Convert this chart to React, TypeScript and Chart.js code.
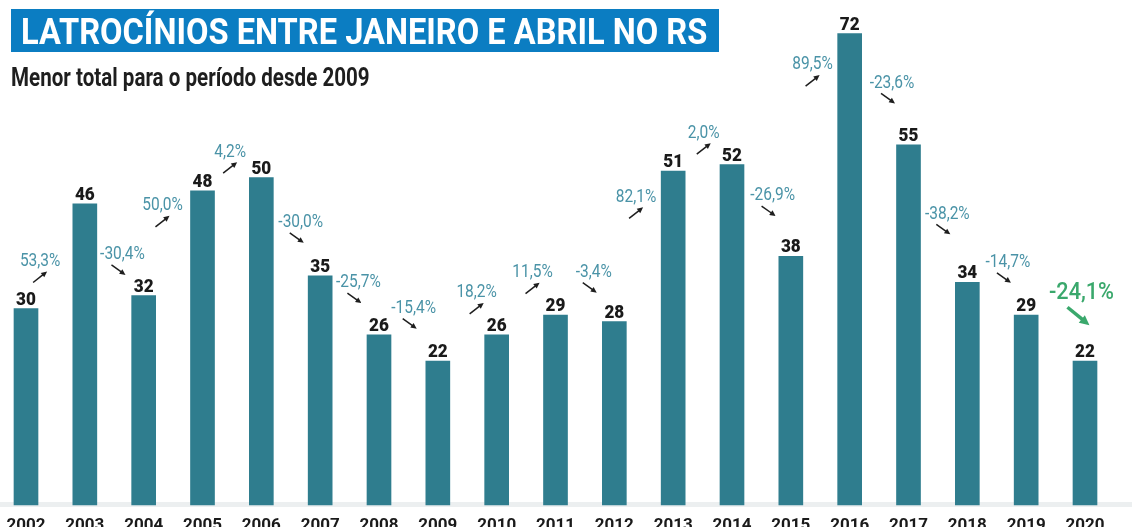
import React, { useEffect, useLayoutEffect, useRef } from 'react';
import { Chart, registerables } from 'chart.js';

Chart.register(...registerables);

const years = ['2002', '2003', '2004', '2005', '2006', '2007', '2008', '2009', '2010', '2011', '2012', '2013', '2014', '2015', '2016', '2017', '2018', '2019', '2020'];
const totals = [30, 46, 32, 48, 50, 35, 26, 22, 26, 29, 28, 51, 52, 38, 72, 55, 34, 29, 22];
const changeLabels = ['53,3%', '-30,4%', '50,0%', '4,2%', '-30,0%', '-25,7%', '-15,4%', '18,2%', '11,5%', '-3,4%', '82,1%', '2,0%', '-26,9%', '89,5%', '-23,6%', '-38,2%', '-14,7%', '-24,1%'];
// annotation anchors in data units (category index, value)
const changeAnchorX = [0.24, 1.64, 2.32, 3.47, 4.67, 5.65, 6.59, 7.66, 8.61, 9.65, 10.37, 11.52, 12.69, 13.37, 14.72, 15.66, 16.69, 17.94];
const changeAnchorY = [37.5, 38.5, 46.0, 54.2, 43.4, 34.2, 30.3, 32.7, 35.8, 35.8, 47.3, 57.1, 47.5, 67.5, 64.7, 44.7, 37.3, 32.8];

const TITLE = 'LATROCÍNIOS ENTRE JANEIRO E ABRIL NO RS';
const SUBTITLE = 'Menor total para o período desde 2009';

function drawArrow(ctx: CanvasRenderingContext2D, x1: number, y1: number, x2: number, y2: number, color: string, lw: number, head: number) {
  const ang = Math.atan2(y2 - y1, x2 - x1);
  ctx.strokeStyle = color;
  ctx.fillStyle = color;
  ctx.lineWidth = lw;
  ctx.lineCap = 'butt';
  ctx.beginPath();
  ctx.moveTo(x1, y1);
  ctx.lineTo(x2 - Math.cos(ang) * head * 0.8, y2 - Math.sin(ang) * head * 0.8);
  ctx.stroke();
  ctx.beginPath();
  ctx.moveTo(x2, y2);
  ctx.lineTo(x2 - head * Math.cos(ang - 0.45), y2 - head * Math.sin(ang - 0.45));
  ctx.lineTo(x2 - head * Math.cos(ang + 0.45), y2 - head * Math.sin(ang + 0.45));
  ctx.closePath();
  ctx.fill();
}

function condensedText(ctx: CanvasRenderingContext2D, txt: string, x: number, y: number, sx: number) {
  ctx.save();
  ctx.translate(x, y);
  ctx.scale(sx, 1);
  ctx.fillText(txt, 0, 0);
  ctx.restore();
}

const annotationPlugin = {
  id: 'annotationPlugin',
  beforeDatasetsDraw(chart: any) {
    const { ctx, chartArea, width } = chart;
    ctx.save();
    ctx.fillStyle = '#eceff0';
    ctx.fillRect(0, chartArea.bottom - 3, width, 5);
    ctx.restore();
  },
  afterDatasetsDraw(chart: any) {
    const ctx: CanvasRenderingContext2D = chart.ctx;
    const meta = chart.getDatasetMeta(0);
    const xs = chart.scales.x;
    const ys = chart.scales.y;
    ctx.save();
    ctx.textAlign = 'center';
    ctx.textBaseline = 'alphabetic';
    ctx.font = '900 19px Roboto';
    ctx.fillStyle = '#1a1a1a';
    meta.data.forEach((bar: any, i: number) => {
      condensedText(ctx, String(totals[i]), bar.x, bar.y - 4, 0.9);
    });
    changeLabels.forEach((txt, i) => {
      const last = i === changeLabels.length - 1;
      const cx = xs.getPixelForValue(changeAnchorX[i]);
      const cy = ys.getPixelForValue(changeAnchorY[i]);
      const up = totals[i + 1] > totals[i];
      const size = last ? 24 : 18;
      ctx.font = (last ? '500 ' : '400 ') + size + 'px Roboto';
      ctx.fillStyle = last ? '#3aa86c' : '#4a93a7';
      condensedText(ctx, txt, cx, cy + size * 0.355, last ? 0.9 : 0.86);
      let s: number[];
      let e: number[];
      if (last) { s = [-14, 17]; e = [8, 35]; }
      else if (up) { s = [-7, 23]; e = [7, 12]; }
      else { s = [-11, 12]; e = [3, 22]; }
      drawArrow(ctx, cx + s[0], cy + s[1], cx + e[0], cy + e[1], last ? '#3aa86c' : '#1e1e1e', last ? 3.5 : 1.5, last ? 11 : 6.5);
    });
    ctx.restore();
  },
};

function FitText({ text, width, style }: { text: string; width: number; style: React.CSSProperties }) {
  const ref = useRef<HTMLSpanElement>(null);
  useLayoutEffect(() => {
    const fit = () => {
      const el = ref.current;
      if (!el) return;
      const w = el.offsetWidth;
      if (w > 0) el.style.transform = `scaleX(${width / w})`;
    };
    fit();
    const fonts: any = (document as any).fonts;
    if (fonts && fonts.ready) fonts.ready.then(fit);
  }, [text, width]);
  return (
    <span ref={ref} style={{ position: 'absolute', whiteSpace: 'nowrap', transformOrigin: 'left top', lineHeight: 1, ...style }}>
      {text}
    </span>
  );
}

export default function App() {
  const canvasRef = useRef<HTMLCanvasElement>(null);

  useEffect(() => {
    if (!canvasRef.current) return;
    const chart = new Chart(canvasRef.current, {
      type: 'bar',
      data: {
        labels: years,
        datasets: [
          {
            data: totals,
            backgroundColor: '#2f7d8e',
            borderWidth: 0,
            barThickness: 24,
            clip: false as any,
          },
        ],
      },
      options: {
        animation: false,
        responsive: false,
        layout: { padding: { left: 26, right: 47, top: 14, bottom: 0 } },
        plugins: {
          legend: { display: false },
          tooltip: { enabled: false },
          title: { display: false },
        },
        scales: {
          x: {
            offset: false,
            grid: { display: false, drawTicks: false },
            border: { display: false },
            ticks: {
              autoSkip: false,
              maxRotation: 0,
              minRotation: 0,
              padding: 11,
              color: '#1a1a1a',
              font: { family: 'Roboto', size: 17, weight: 'bold' },
            },
            afterFit: (scale: any) => {
              scale.height = 22;
              scale.paddingLeft = 0;
              scale.paddingRight = 0;
            },
          },
          y: { display: false, min: 0, max: 75 },
        },
      },
      plugins: [annotationPlugin],
    });
    return () => chart.destroy();
  }, []);

  return (
    <div style={{ position: 'fixed', left: 0, top: 0, width: 1132, height: 527, background: '#ffffff', overflow: 'hidden' }}>
      <canvas ref={canvasRef} width={1132} height={527} style={{ position: 'absolute', left: 0, top: 0, width: 1132, height: 527 }} />
      <div style={{ position: 'absolute', left: 11, top: 9, width: 708, height: 43, background: '#0b7dc2' }} />
      <FitText
        text={TITLE}
        width={686}
        style={{ left: 21, top: 13.7, fontFamily: 'Roboto', fontWeight: 700, fontSize: 36, color: '#ffffff' }}
      />
      <FitText
        text={SUBTITLE}
        width={359}
        style={{ left: 11, top: 65, fontFamily: 'Roboto', fontWeight: 700, fontSize: 25, color: '#1e1e1e' }}
      />
    </div>
  );
}
